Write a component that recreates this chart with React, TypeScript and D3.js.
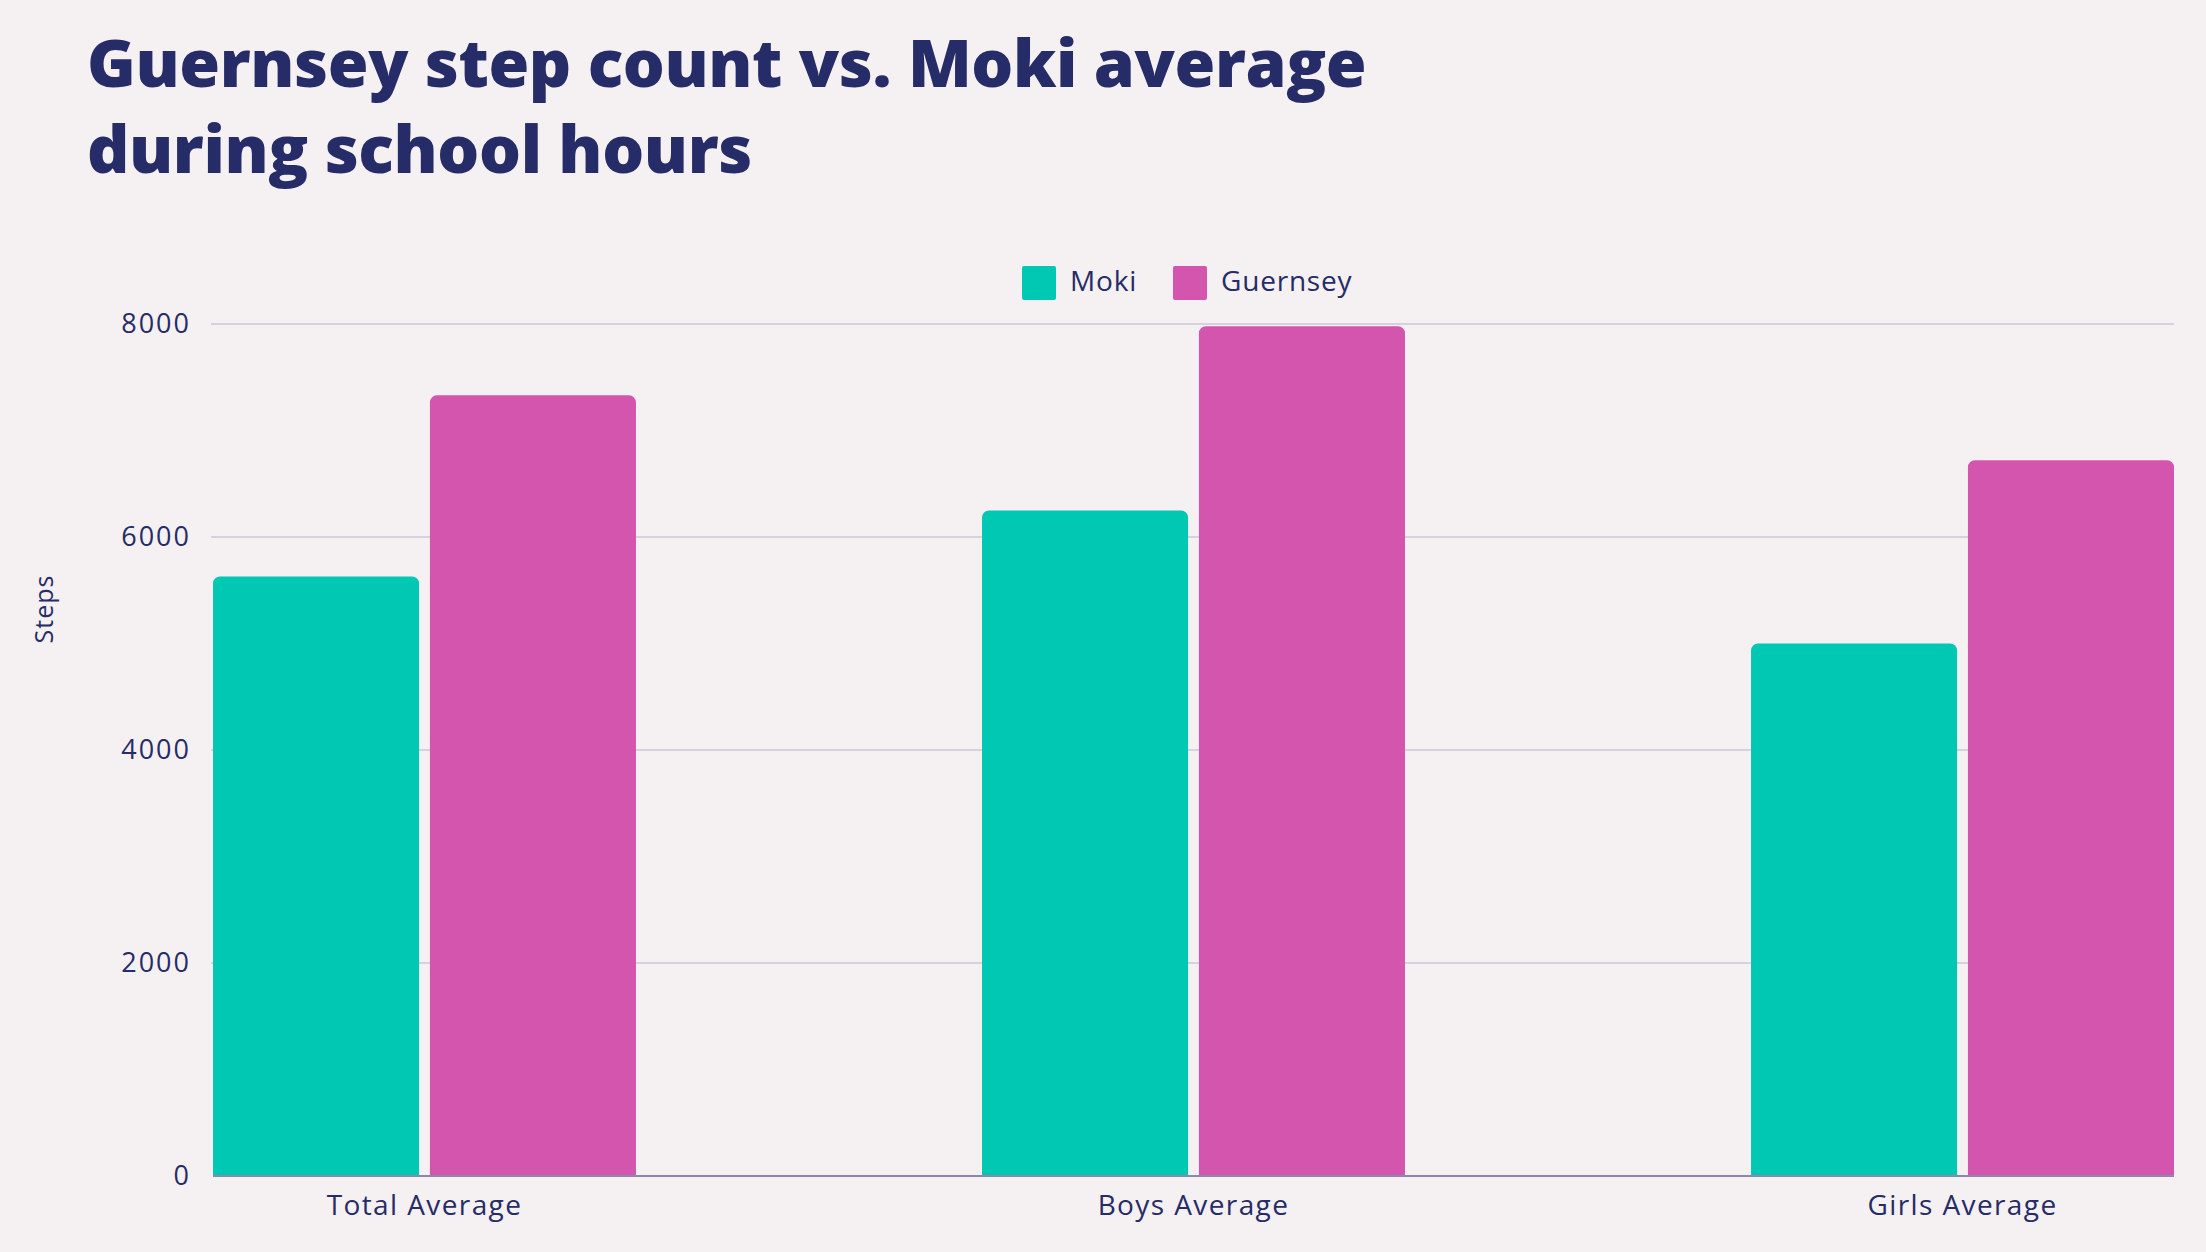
import React from "react";
import * as d3 from "d3";

const categories = ["Total Average", "Boys Average", "Girls Average"];
const seriesNames = ["Moki", "Guernsey"];
const mokiValues = [5630, 6250, 5000];
const guernseyValues = [7330, 7980, 6720];
const yTicks = [0, 2000, 4000, 6000, 8000];
const titleLines = ["Guernsey step count vs. Moki average", "during school hours"];
const colors = ["#00C8B3", "#D455AD"];

const W = 2206;
const H = 1252;
const NAVY = "#262C67";
const FONT = "'Open Sans', 'Noto Sans', sans-serif";

function topRoundedRect(x: number, y: number, w: number, h: number, r: number) {
  const rr = Math.min(r, h, w / 2);
  const p = d3.path();
  p.moveTo(x, y + h);
  p.lineTo(x, y + rr);
  p.arcTo(x, y, x + rr, y, rr);
  p.lineTo(x + w - rr, y);
  p.arcTo(x + w, y, x + w, y + rr, rr);
  p.lineTo(x + w, y + h);
  p.closePath();
  return p.toString();
}

export default function App() {
  const left = 213;
  const right = 2174;
  const top = 324;
  const bottom = 1176;

  const y = d3.scaleLinear().domain([0, 8000]).range([bottom, top]);
  const x0 = d3.scaleBand<string>().domain(categories).range([left, right]).paddingInner(0.45).paddingOuter(0);
  const x1 = d3.scaleBand<string>().domain(seriesNames).range([0, x0.bandwidth()]).paddingInner(0.05);
  const values = [mokiValues, guernseyValues];

  return (
    <svg
      width={W}
      height={H}
      viewBox={`0 0 ${W} ${H}`}
      style={{ position: "absolute", left: 0, top: 0, display: "block" }}
    >
      <rect x={0} y={0} width={W} height={H} fill="#F5F0F1" />
      {titleLines.map((t, i) => (
        <text
          key={t}
          x={87}
          y={87 + i * 86}
          fill={NAVY}
          fontFamily={FONT}
          fontWeight={800}
          fontSize={66}
          letterSpacing={-0.4}
        >
          {t}
        </text>
      ))}

      {/* legend */}
      {seriesNames.map((s, i) => {
        const lx = [1022, 1173][i];
        return (
          <g key={s}>
            <rect x={lx} y={266} width={34} height={34} rx={2} fill={colors[i]} />
            <text x={lx + 48} y={291} fill={NAVY} fontFamily={FONT} fontSize={28} letterSpacing={0.8}>
              {s}
            </text>
          </g>
        );
      })}

      {/* grid */}
      {yTicks.map((t) => (
        <g key={t}>
          {t !== 0 && (
            <line x1={left - 2} x2={right} y1={y(t)} y2={y(t)} stroke="#D6D0E0" strokeWidth={2} />
          )}
          <text
            x={191}
            y={y(t)}
            dy="0.35em"
            textAnchor="end"
            fill={NAVY}
            fontFamily={FONT}
            fontSize={27}
            letterSpacing={2}
          >
            {t}
          </text>
        </g>
      ))}

      <text
        transform={`translate(44,609) rotate(-90)`}
        textAnchor="middle"
        dy="0.35em"
        fill={NAVY}
        fontFamily={FONT}
        fontSize={25}
        letterSpacing={1}
      >
        Steps
      </text>

      {/* bars */}
      {categories.map((c, ci) => (
        <g key={c} transform={`translate(${x0(c)},0)`}>
          {seriesNames.map((s, si) => {
            const v = values[si][ci];
            const bx = x1(s)!;
            return (
              <path
                key={s}
                d={topRoundedRect(bx, y(v), x1.bandwidth(), y(0) - y(v), 7)}
                fill={colors[si]}
              />
            );
          })}
          <text
            x={x0.bandwidth() / 2}
            y={1205}
            dy="0.35em"
            textAnchor="middle"
            fill={NAVY}
            fontFamily={FONT}
            fontSize={28}
            letterSpacing={1.4}
          >
            {c}
          </text>
        </g>
      ))}

      <line x1={left} x2={right} y1={bottom} y2={bottom} stroke="#8C89AC" strokeWidth={2} />
    </svg>
  );
}
